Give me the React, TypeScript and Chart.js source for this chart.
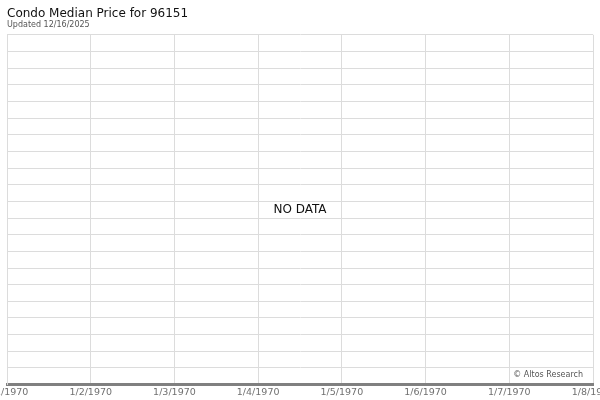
import { useEffect, useRef } from "react"
import { Chart, registerables } from "chart.js"
import type { Plugin } from "chart.js"

Chart.register(...registerables)

// x-axis categories (days), no price values available
const dayLabels = ["1/1/1970", "1/2/1970", "1/3/1970", "1/4/1970", "1/5/1970", "1/6/1970", "1/7/1970", "1/8/1970"]
const medianPrice: (number | null)[] = []
const yMin = 0
const yMax = 21

const titleText = "Condo Median Price for 96151"
const subtitleText = "Updated 12/16/2025"
const emptyText = "NO DATA"
const creditText = "© Altos Research"

const font = "'DejaVu Sans', sans-serif"

const overlayPlugin: Plugin<"line"> = {
  id: "overlay",
  afterDraw(chart) {
    const { ctx, chartArea } = chart
    ctx.save()
    ctx.textBaseline = "middle"
    if (medianPrice.length === 0) {
      ctx.fillStyle = "#111"
      ctx.font = `12px ${font}`
      ctx.textAlign = "center"
      ctx.fillText(emptyText, (chartArea.left + chartArea.right) / 2, (chartArea.top + chartArea.bottom) / 2)
    }
    ctx.fillStyle = "#555"
    ctx.font = `8px ${font}`
    ctx.textAlign = "right"
    ctx.fillText(creditText, chartArea.right - 10, chartArea.bottom - 10)
    ctx.restore()
  },
}

function PriceChart() {
  const canvasRef = useRef<HTMLCanvasElement>(null)
  const chartRef = useRef<Chart<"line"> | null>(null)

  useEffect(() => {
    if (!canvasRef.current) return
    document.body.style.margin = "0"

    chartRef.current = new Chart(canvasRef.current, {
      type: "line",
      data: {
        labels: dayLabels,
        datasets: [
          {
            label: "Median Price",
            data: medianPrice,
            borderColor: "#1f5fa8",
            pointRadius: 0,
          },
        ],
      },
      options: {
        responsive: true,
        maintainAspectRatio: false,
        animation: false,
        layout: { padding: { top: 8, left: 7, right: 7, bottom: 0 } },
        scales: {
          x: {
            offset: false,
            grid: { color: "#dcdcdc", offset: false, drawTicks: false },
            border: { color: "#808080", width: 3 },
            ticks: {
              color: "#707070",
              font: { family: font, size: 9.5 },
              padding: 2,
              autoSkip: false,
              maxRotation: 0,
            },
            afterFit: (scale) => {
              scale.paddingLeft = 0
              scale.paddingRight = 0
            },
          },
          y: {
            min: yMin,
            max: yMax,
            grid: { color: "#dcdcdc", drawTicks: false },
            border: { color: "#dcdcdc" },
            ticks: { display: false, stepSize: 1 },
          },
        },
        plugins: {
          legend: { display: false },
          tooltip: { enabled: false },
          title: {
            display: true,
            text: titleText,
            align: "start",
            color: "#111",
            font: { family: font, size: 12, weight: "normal", lineHeight: 1 },
            padding: { top: 0, bottom: 0 },
          },
          subtitle: {
            display: true,
            text: subtitleText,
            align: "start",
            color: "#555",
            font: { family: font, size: 8, lineHeight: 1.1 },
            padding: { top: 1, bottom: 5 },
          },
        },
      },
      plugins: [overlayPlugin],
    })

    return () => {
      chartRef.current?.destroy()
    }
  }, [])

  return (
    <div style={{ width: 600, height: 400, position: "relative" }}>
      <canvas ref={canvasRef} />
    </div>
  )
}

export default function App() {
  return <PriceChart />
}
